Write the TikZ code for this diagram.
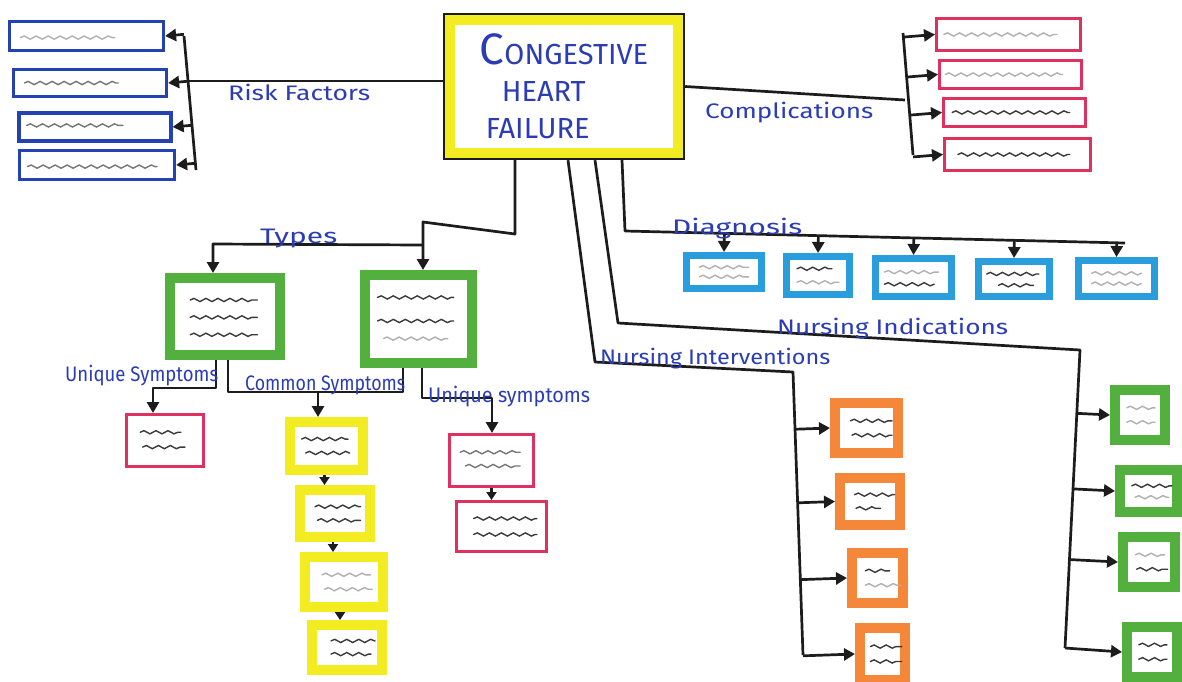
\documentclass[tikz,border=0pt]{standalone}
\usepackage{fontspec}
\setmainfont{Fira Sans}
\usetikzlibrary{arrows.meta,calc,decorations.pathmorphing}
\definecolor{ink}{HTML}{1C1C1C}
\definecolor{pen}{HTML}{2B3CB4}
\definecolor{rfblue}{HTML}{2542B5}
\definecolor{cred}{HTML}{E0305F}
\definecolor{hlyellow}{HTML}{F3EC22}
\definecolor{hlgreen}{HTML}{53B03F}
\definecolor{hlcyan}{HTML}{2A9EDD}
\definecolor{hlorange}{HTML}{F5873A}
\definecolor{scrdark}{HTML}{3A3A3A}
\definecolor{scrmid}{HTML}{777777}
\definecolor{scrlight}{HTML}{B0B0B0}
% scribble line inside a box: node, u1, u2 (fractions of width), v (fraction of height from bottom), colour
\newcommand\boxscribble[5]{%
  \path ($(#1.south west)!#4!(#1.north west)$) coordinate (scrA)
        ($(#1.south east)!#4!(#1.north east)$) coordinate (scrB);
  \draw[scribble,#5] ($(scrA)!#2!(scrB)$) -- ($(scrA)!#3!(scrB)$);}
\newcommand\labelfit[2]{\resizebox{#1pt}{\height}{#2}}
\begin{document}
\begin{tikzpicture}[x=1pt,y=-1pt,
  conn/.style={draw=ink, line width=2.7pt, line join=round},
  arr/.style={conn, -{Triangle[length=11pt,width=12pt]}},
  sarr/.style={conn, -{Triangle[length=8pt,width=10pt]}},
  card/.style={rectangle, fill=white, inner sep=0pt},
  sz/.style 2 args={minimum width=#1pt, minimum height=#2pt},
  rfbox/.style={card, draw=rfblue, line width=3.2pt},
  redbox/.style={card, draw=cred, line width=3pt},
  ybox/.style={card, draw=hlyellow, line width=10pt},
  gbox/.style={card, draw=hlgreen, line width=10pt},
  dbox/.style={card, draw=hlcyan, line width=7pt},
  obox/.style={card, draw=hlorange, line width=10pt},
  chfbox/.style={rectangle, draw=ink, line width=2.4pt, fill=white, inner sep=0pt,
    align=left, text=pen, font=\fontsize{29}{37}\selectfont},
  lbl/.style={text=pen, font=\fontsize{21}{23}\selectfont, inner sep=0pt, anchor=base west},
  scribble/.style={line width=1.4pt, line cap=round, decorate,
    decoration={snake, amplitude=1.6pt, segment length=12pt}}
]
\fill[white] (0,0) rectangle (1182,681);
\path[use as bounding box] (0,0) rectangle (1182,681);

% ---------- central node ----------
\node[chfbox, sz={240}{145}] (chf) at (564,86.5)
  {{\fontsize{44}{44}\selectfont C}ONGESTIVE\\\hspace*{22pt}HEART\\\hspace*{6pt}FAILURE};
\draw[hlyellow, line width=10pt] ([xshift=7pt,yshift=-7pt]chf.north west) rectangle ([xshift=-7pt,yshift=7pt]chf.south east);

% ---------- risk factors ----------
\node[rfbox, sz={154}{29}] (rf1) at (86.5,36) {};
\node[rfbox, sz={153}{27}] (rf2) at (90,83) {};
\node[rfbox, sz={152}{28}] (rf3) at (95,127) {};
\node[rfbox, sz={155}{29}] (rf4) at (97,165) {};
\boxscribble{rf1}{0.08}{0.68}{0.45}{scrlight}
\boxscribble{rf2}{0.08}{0.68}{0.5}{scrmid}
\boxscribble{rf3}{0.06}{0.68}{0.55}{scrmid}
\boxscribble{rf4}{0.06}{0.88}{0.45}{scrmid}
\coordinate (rft) at (184,36);
\coordinate (rfb) at (196,170);
\coordinate (rfj) at (189,81);
\draw[conn] (chf.west |- rfj) -- (rfj);
\draw[conn] (rft) -- (rfb);
\foreach \b in {rf1,rf2,rf3,rf4} \draw[arr] ($(rft)!(\b.east)!(rfb)$) -- (\b.east);
\node[lbl] (rflbl) at (228,100) {\labelfit{142}{Risk Factors}};

% ---------- complications ----------
\node[redbox, sz={144}{32}] (c1) at (1008.5,34.5) {};
\node[redbox, sz={142}{28}] (c2) at (1010.5,74.5) {};
\node[redbox, sz={142}{28}] (c3) at (1014.5,112.5) {};
\node[redbox, sz={146}{32}] (c4) at (1017.5,154.5) {};
\boxscribble{c1}{0.06}{0.83}{0.5}{scrlight}
\boxscribble{c2}{0.05}{0.86}{0.5}{scrlight}
\boxscribble{c3}{0.07}{0.88}{0.5}{scrdark}
\boxscribble{c4}{0.1}{0.85}{0.5}{scrdark}
\coordinate (cbt) at (903,33);
\coordinate (cbb) at (913,155);
\coordinate (cj) at (905,100);
\draw[conn] (chf.east) -- (cj);
\draw[conn] (cbt) -- (cbb);
\foreach \b in {c1,c2,c3,c4} \draw[arr] ($(cbt)!(\b.west)!(cbb)$) -- (\b.west);
\node[lbl] (cmlbl) at (705,118) {\labelfit{168}{Complications}};

% ---------- types ----------
\node[gbox, sz={110}{77}] (g1) at (225,316.5) {};
\node[gbox, sz={107}{88}] (g2) at (418.5,319) {};
\boxscribble{g1}{0.21}{0.77}{0.69}{scrdark}
\boxscribble{g1}{0.21}{0.77}{0.49}{scrdark}
\boxscribble{g1}{0.21}{0.77}{0.29}{scrdark}
\boxscribble{g2}{0.15}{0.8}{0.72}{scrdark}
\boxscribble{g2}{0.15}{0.8}{0.48}{scrdark}
\boxscribble{g2}{0.2}{0.75}{0.30}{scrlight}
\coordinate (t0) at (515,234);
\coordinate (t1) at (423,222);
\coordinate (t2) at (423,245);
\coordinate (t3) at (213,244);
\draw[arr] (chf.south -| t0) -- (t0) -- (t1) -- (t1 |- g2.north);
\draw[arr] (t2) -- (t3) -- (t3 |- g1.north);
\node[lbl] (tylbl) at (260,243) {\labelfit{77}{Types}};

% ---------- symptoms ----------
\node[redbox, sz={77}{52}] (us1) at (165,440.5) {};
\node[redbox, sz={84}{52}] (us2a) at (491.5,460.5) {};
\node[redbox, sz={90}{50}] (us2b) at (501.5,526.5) {};
\boxscribble{us1}{0.19}{0.7}{0.65}{scrdark}
\boxscribble{us1}{0.22}{0.75}{0.38}{scrdark}
\boxscribble{us2a}{0.14}{0.83}{0.65}{scrmid}
\boxscribble{us2a}{0.2}{0.83}{0.4}{scrmid}
\boxscribble{us2b}{0.2}{0.88}{0.65}{scrdark}
\boxscribble{us2b}{0.2}{0.88}{0.35}{scrdark}
\node[ybox, sz={73}{48}] (y1) at (326.5,446) {};
\node[ybox, sz={70}{47}] (y2) at (335,513.5) {};
\node[ybox, sz={78}{50}] (y3) at (344,582) {};
\node[ybox, sz={70}{45}] (y4) at (347,647.5) {};
\boxscribble{y1}{0.2}{0.76}{0.62}{scrdark}
\boxscribble{y1}{0.25}{0.78}{0.38}{scrdark}
\boxscribble{y2}{0.25}{0.82}{0.62}{scrdark}
\boxscribble{y2}{0.28}{0.82}{0.38}{scrdark}
\boxscribble{y3}{0.25}{0.8}{0.62}{scrlight}
\boxscribble{y3}{0.28}{0.82}{0.38}{scrlight}
\boxscribble{y4}{0.3}{0.85}{0.62}{scrdark}
\boxscribble{y4}{0.3}{0.8}{0.38}{scrdark}
\coordinate (u1a) at (216,388);
\coordinate (u1b) at (153,388);
\draw[arr] (g1.south -| u1a) -- (u1a) -- (u1b) -- (u1b |- us1.north);
\coordinate (cs1) at (228,392);
\coordinate (cs2) at (403,392);
\coordinate (cs3) at (318,392);
\draw[conn] (g1.south -| cs1) -- (cs1) -- (cs2) -- (g2.south -| cs2);
\draw[arr] (cs3) -- (cs3 |- y1.north);
\coordinate (u2a) at (422,398);
\coordinate (u2b) at (492,398);
\draw[arr] (g2.south -| u2a) -- (u2a) -- (u2b) -- (u2b |- us2a.north);
\draw[sarr] (us2a.south) -- (us2a.south |- us2b.north);
\draw[sarr] ([xshift=-2pt]y1.south) -- ([xshift=-2pt]y1.south |- y2.north);
\draw[sarr] ([xshift=-2pt]y2.south) -- ([xshift=-2pt]y2.south |- y3.north);
\draw[sarr] ([xshift=-4pt]y3.south) -- ([xshift=-4pt]y3.south |- y4.north);
\node[lbl] (us1lbl) at (65,381) {\labelfit{153}{Unique Symptoms}};
\node[lbl] (cslbl) at (245,390) {\labelfit{160}{Common Symptoms}};
\node[lbl] (us2lbl) at (428,402) {\labelfit{162}{Unique symptoms}};

% ---------- diagnosis ----------
\node[dbox, sz={75}{33}] (d1) at (724,272) {};
\node[dbox, sz={63}{38}] (d2) at (818,275.5) {};
\node[dbox, sz={76}{38}] (d3) at (913.5,277.5) {};
\node[dbox, sz={71}{35}] (d4) at (1014,279) {};
\node[dbox, sz={76}{36}] (d5) at (1116.5,278.5) {};
\boxscribble{d1}{0.2}{0.8}{0.62}{scrlight}
\boxscribble{d1}{0.2}{0.8}{0.38}{scrlight}
\boxscribble{d2}{0.2}{0.7}{0.65}{scrdark}
\boxscribble{d2}{0.2}{0.8}{0.35}{scrlight}
\boxscribble{d3}{0.15}{0.8}{0.62}{scrlight}
\boxscribble{d3}{0.15}{0.75}{0.35}{scrdark}
\boxscribble{d4}{0.15}{0.82}{0.62}{scrdark}
\boxscribble{d4}{0.3}{0.75}{0.35}{scrdark}
\boxscribble{d5}{0.2}{0.8}{0.62}{scrlight}
\boxscribble{d5}{0.2}{0.8}{0.38}{scrlight}
\coordinate (dg0) at (625,231);
\coordinate (dg1) at (1125,243);
\draw[conn] ([xshift=58pt]chf.south) -- (dg0) -- (dg1);
\foreach \b in {d1,d2,d3,d4,d5} \draw[arr] ($(dg0)!(\b.north)!(dg1)$) -- (\b.north);
\node[lbl] (dglbl) at (672,234) {\labelfit{130}{Diagnosis}};

% ---------- nursing interventions ----------
\node[obox, sz={63}{50}] (o1) at (866.5,428) {};
\node[obox, sz={60}{47}] (o2) at (870,501.5) {};
\node[obox, sz={51}{50}] (o3) at (877.5,578) {};
\node[obox, sz={45}{52}] (o4) at (882.5,654) {};
\boxscribble{o1}{0.28}{0.85}{0.62}{scrdark}
\boxscribble{o1}{0.3}{0.85}{0.38}{scrdark}
\boxscribble{o2}{0.28}{0.85}{0.62}{scrdark}
\boxscribble{o2}{0.3}{0.65}{0.38}{scrdark}
\boxscribble{o3}{0.3}{0.7}{0.62}{scrdark}
\boxscribble{o3}{0.3}{0.88}{0.38}{scrlight}
\boxscribble{o4}{0.28}{0.85}{0.62}{scrdark}
\boxscribble{o4}{0.28}{0.85}{0.38}{scrdark}
\coordinate (nv0) at (595,362);
\coordinate (nv1) at (793,372);
\coordinate (nv2) at (803,655);
\draw[conn] ([xshift=4pt]chf.south) -- (nv0) -- (nv1) -- (nv2);
\foreach \b in {o1,o2,o3,o4} \draw[arr] ($(nv1)!(\b.west)!(nv2)$) -- (\b.west);
\node[lbl] (nvlbl) at (600,364) {\labelfit{230}{Nursing Interventions}};

% ---------- nursing indications ----------
\node[gbox, sz={50}{50}] (n1) at (1140,415) {};
\node[gbox, sz={57}{42}] (n2) at (1148.5,491) {};
\node[gbox, sz={52}{50}] (n3) at (1149,562) {};
\node[gbox, sz={50}{50}] (n4) at (1152,652) {};
\boxscribble{n1}{0.28}{0.75}{0.62}{scrlight}
\boxscribble{n1}{0.28}{0.75}{0.38}{scrlight}
\boxscribble{n2}{0.25}{0.85}{0.6}{scrdark}
\boxscribble{n2}{0.3}{0.8}{0.38}{scrlight}
\boxscribble{n3}{0.28}{0.75}{0.62}{scrlight}
\boxscribble{n3}{0.3}{0.8}{0.38}{scrdark}
\boxscribble{n4}{0.28}{0.75}{0.62}{scrdark}
\boxscribble{n4}{0.28}{0.75}{0.38}{scrdark}
\coordinate (ni0) at (618,323);
\coordinate (ni1) at (1080,350);
\coordinate (ni2) at (1065,648);
\draw[conn] ([xshift=31pt]chf.south) -- (ni0) -- (ni1) -- (ni2);
\foreach \b in {n1,n2,n3} \draw[arr] ($(ni1)!(\b.west)!(ni2)$) -- (\b.west);
\draw[arr] (ni2) -- (n4.west);
\node[lbl] (nilbl) at (777,334) {\labelfit{231}{Nursing Indications}};
\end{tikzpicture}
\end{document}
